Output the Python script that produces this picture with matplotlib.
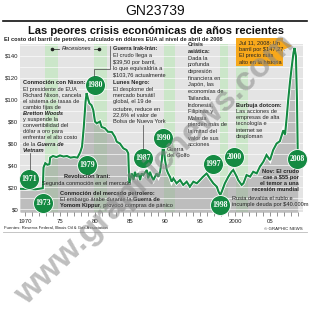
import matplotlib
matplotlib.use("Agg")
import matplotlib.pyplot as plt
import matplotlib.patheffects as pe
from matplotlib.lines import Line2D
from matplotlib.patches import Rectangle, Polygon

plt.rcParams['font.family'] = ['Liberation Sans', 'DejaVu Sans']

W, H = 310, 312

# crude oil price, 2008 dollars per barrel (as plotted)
years = [1969.3, 1970.5, 1971.5, 1972.0, 1972.55, 1972.65, 1972.9, 1973.2, 1973.5, 1973.6,
         1974.0, 1974.5, 1975.0, 1975.5, 1976.0, 1976.5, 1977.0, 1977.5, 1977.9, 1978.15,
         1978.4, 1978.65, 1978.8, 1979.0, 1979.2, 1979.5, 1979.75, 1980.0, 1980.25, 1980.7,
         1980.95, 1981.4, 1981.85, 1982.4, 1982.85, 1983.1, 1983.55, 1984.05, 1984.5, 1984.75,
         1984.9, 1985.25, 1985.5, 1985.7, 1985.95, 1986.2, 1986.45, 1986.65, 1986.9, 1987.4,
         1987.6, 1987.85, 1988.1, 1988.35, 1988.8, 1989.05, 1989.3, 1989.55, 1989.75, 1990.0,
         1990.25, 1990.45, 1990.7, 1990.95, 1991.2, 1991.65, 1992.15, 1992.6, 1993.1, 1993.55,
         1994.05, 1994.55, 1995.0, 1995.45, 1995.95, 1996.4, 1996.9, 1997.4, 1997.65, 1997.9,
         1998.1, 1998.55, 1999.05, 1999.5, 1999.75, 2000.25, 2000.45, 2000.95, 2001.2, 2001.65,
         2002.15, 2002.6, 2003.1, 2003.55, 2004.05, 2004.5, 2005.0, 2005.45, 2005.95, 2006.4,
         2006.9, 2007.15, 2007.4, 2007.6, 2007.85, 2008.1, 2008.35, 2008.5, 2008.7, 2008.85,
         2008.95]
prices = [18.5, 18.3, 18.0, 18.5, 19.0, 38, 42, 40.5, 41, 47,
          48.5, 47.5, 49, 48, 48.5, 47, 47.5, 47, 52, 57,
          75, 98, 106, 101, 96.7, 95, 90.6, 80, 78.4, 80,
          75, 74, 70.7, 70.5, 66, 61.6, 60, 55.5, 54, 51,
          23.5, 32.6, 26.5, 34, 29.6, 32.6, 26.5, 32.6, 31, 35.7,
          28, 34, 29.6, 26.5, 32.6, 29.6, 34, 44.8, 62, 44.8,
          35.7, 32.6, 29.6, 25, 28, 23.5, 26.5, 22, 25, 20.4,
          25, 23.5, 26.5, 29.6, 32.6, 28, 23.5, 20.4, 15.8, 12.8,
          15.8, 23.5, 29.6, 34.1, 35.7, 29.6, 26.5, 22, 23.5, 31.1,
          29.6, 34.1, 32.6, 38.7, 43.3, 49.4, 44.8, 54, 60, 62,
          72, 68, 85, 100, 116, 130, 143, 147.3, 140, 100,
          55]

recession_start = [1972.86, 1979.86, 1989.86, 1997.86, 2000.1]
recession_end = [1974.71, 1981.71, 1991.43, 1999.0, 2001.86]

event_labels = ["1971", "1973", "1979", "1980", "1987", "1990", "1997", "1998", "2000", "2008"]
event_x = [1970.57, 1972.57, 1978.86, 1980.0, 1986.86, 1989.71, 1996.86, 1997.86, 1999.86, 2008.86]
event_y = [27.4, 5.5, 40.3, 113.4, 46.7, 65.0, 41.2, 3.7, 47.6, 45.7]

xtick_pos = [1970, 1975, 1980, 1985, 1990, 1995, 2000, 2005]
xtick_lab = ["1970", "75", "80", "85", "90", "95", "2000", "05"]
ytick_pos = [0, 20, 40, 60, 80, 100, 120, 140]

GREEN = '#148a42'
TXT = '#222222'

fig = plt.figure(figsize=(W / 100, H / 100), dpi=100)
fig.patch.set_facecolor('white')


def fx(x):
    return x / W


def fy(y):
    return 1 - y / H


ax = fig.add_axes([fx(20), fy(212), 283 / W, 168 / H])
ax.set_facecolor('#e4e4e4')
ax.set_xlim(1969.29, 2009.71)
ax.set_ylim(-2.74, 150.96)
for s in ax.spines.values():
    s.set_visible(False)

for a, b in zip(recession_start, recession_end):
    ax.axvspan(a, b, color='#cbe6c9', lw=0, zorder=0.5)
ax.fill_between(years, prices, -5, color='#8f8f8f', alpha=0.45, lw=0, zorder=1)
for v in range(0, 151, 10):
    ax.axhline(v, color='white', lw=0.45, zorder=1.5)

ax.plot(years, prices, color=GREEN, lw=1.5, zorder=3, solid_joinstyle='miter',
        path_effects=[pe.Stroke(linewidth=2.6, foreground='white'), pe.Normal()])

ax.scatter(event_x, event_y, s=205, color=GREEN, edgecolor='white', linewidth=0.6,
           zorder=4, clip_on=False)
for lab, x, y in zip(event_labels, event_x, event_y):
    ax.text(x, y, lab, color='white', fontsize=5.6, fontweight='bold',
            family='Liberation Serif', ha='center', va='center', zorder=5)

ax.set_xticks(xtick_pos)
ax.set_xticklabels(xtick_lab)
ax.set_xticks(range(1970, 2010), minor=True)
ax.set_yticks(ytick_pos)
ax.set_yticklabels([r'\$%d' % v for v in ytick_pos])
ax.tick_params(axis='x', which='both', direction='out', length=3, width=0.5,
               color='#666666', labelsize=4.3, pad=2, labelcolor=TXT)
ax.tick_params(axis='y', length=0, labelsize=4.3, pad=1.2, labelcolor=TXT)

renderer = fig.canvas.get_renderer()


def fit_width(t, target):
    w = t.get_window_extent(renderer).width
    t.set_fontsize(t.get_fontsize() * target / w)


def seg_text(x, y, segs, size=4.1):
    # a line made of (text, style) pieces, placed side by side
    cur = x
    for txt, st in segs:
        kw = dict(fontsize=size, color=TXT, va='center', ha='left')
        if 'b' in st:
            kw['fontweight'] = 'bold'
        if 'i' in st:
            kw['fontstyle'] = 'italic'
        t = fig.text(fx(cur), fy(y), txt, **kw)
        cur += t.get_window_extent(renderer).width


def block(x, y0, step, lines, size=4.1, ha='left'):
    for i, ln in enumerate(lines):
        y = y0 + i * step
        if isinstance(ln, tuple):
            txt, st = ln
        else:
            txt, st = ln, ''
        if isinstance(txt, list):
            seg_text(x, y, txt, size)
            continue
        fig.text(fx(x), fy(y), txt, fontsize=size, color=TXT, ha=ha, va='center',
                 fontweight='bold' if 'b' in st else 'normal',
                 fontstyle='italic' if 'i' in st else 'normal')


def rule(xs, ys, color='#444444', lw=0.5):
    fig.add_artist(Line2D([fx(v) for v in xs], [fy(v) for v in ys],
                          color=color, lw=lw, transform=fig.transFigure, zorder=6))


# header
fig.text(0.5, fy(11), 'GN23739', fontsize=10, ha='center', va='center', color='#111111')
rule([3, 307], [21, 21], color='#111111', lw=1.2)
title = fig.text(fx(28), fy(31), 'Las peores crisis económicas de años recientes',
                 fontweight='bold', fontsize=9.3, ha='left', va='center', color='#111111')
fit_width(title, 256)
sub = fig.text(fx(4), fy(39.5),
               'El costo del barril de petróleo, calculado en dólares EUA al nivel de abril de 2008',
               fontweight='bold', fontsize=4.0, ha='left', va='center', color=TXT)
fit_width(sub, 212)

# recession key
fig.text(fx(76.5), fy(49), 'Recesiones', fontsize=4.1, style='italic', ha='center',
         va='center', color=TXT)
rule([53, 59], [49, 49], color=TXT)
rule([94, 99], [49, 49], color=TXT)
fig.add_artist(Line2D([fx(52), fx(99)], [fy(49), fy(49)], ls='none', marker='o', ms=1.6,
                      color=TXT, transform=fig.transFigure))

block(113, 49, 6.55, [('Guerra Irak-Irán:', 'b'), 'El crudo llega a',
                      r'\$39,50 por barril,', 'lo que equivaldría a',
                      r'\$103,76 actualmente'])
rule([110, 110, 94.5, 94.5], [46, 68.5, 68.5, 76])

block(113, 82.7, 6.4, [('Lunes Negro:', 'b'), 'El desplome del', 'mercado bursátil',
                       'global, el 19 de', 'octubre, reduce en', '22,6% el valor de',
                       'Bolsa de Nueva York'])
rule([143, 143], [125, 148.5])

block(23, 83, 6.1, [('Conmoción con Nixon:', 'b'), 'El presidente de EUA',
                    'Richard Nixon, cancela', 'el sistema de tasas de', 'cambio fijas de',
                    ('Bretton Woods', 'bi'), 'y suspende la', 'convertibilidad del',
                    'dólar a oro para', 'enfrentar el alto costo',
                    ([('de la ', ''), ('Guerra de', 'bi')], ''), ('Vietnam', 'bi')])
rule([30, 30], [153, 169.5])

block(87, 177, 6.5, [('Revolución Irani:', 'b'), 'Segunda conmoción en el mercado'],
      ha='center')

block(60, 193, 6.5, [('Conmoción del mercado petrolero:', 'b'),
                     ([('El embargo árabe durante la ', ''), ('Guerra de', 'b')], ''),
                     ([('Yomom Kippur', 'b'), (', provocó compras de pánico', '')], '')])

block(167, 149.5, 6.0, ['Guerra', 'del Golfo'])

block(188, 45, 6.65, [('Crisis', 'b'), ('asiática:', 'b'), 'Dada la', 'profunda',
                      'depresión', 'financiera en', 'Japón, las', 'economías de',
                      'Tailandia,', 'Indonesia,', 'Filipinas y', 'Malasia',
                      'pierden más de', 'la mitad del', 'valor de sus', 'acciones'])

block(236, 105, 6.3, [('Burbuja dotcom:', 'b'), 'Las acciones de', 'empresas de alta',
                      'tecnología e', 'internet se', 'desploman'])

block(299, 171.7, 5.9, [('Nov: El crudo', 'b'), (r'cae a \$55 por', 'b'),
                        ('el temor a una', 'b'), ('recesión mundial', 'b')], ha='right')

block(232, 198, 6.6, ['Rusia devalúa el rublo e', r'incumple deuda por \$40.000m'])

# record-price callout
fig.add_artist(Rectangle((fx(236), fy(66)), 47 / W, 28 / H, transform=fig.transFigure,
                         facecolor='#f7a81b', edgecolor='none', zorder=6))
fig.add_artist(Polygon([(fx(283), fy(41)), (fx(292), fy(46)), (fx(283), fy(50))],
                       closed=True, transform=fig.transFigure, facecolor='#f7a81b',
                       edgecolor='none', zorder=6))
for i, ln in enumerate(['Jul 11, 2008: Un', r'barril por \$147,27.', 'El precio más',
                        'alto en la historia']):
    fig.text(fx(238.5), fy(43 + i * 6.5), ln, fontsize=4.1, color=TXT, ha='left',
             va='center', zorder=7)

# footer
fig.text(fx(4), fy(228), 'Fuentes: Reserva Federal, Illinois Oil & Gas Association',
         fontsize=3.1, color=TXT, ha='left', va='center')
fig.text(fx(303), fy(228.5), '© GRAPHIC NEWS', fontsize=3.2, color=TXT, ha='right',
         va='center')
rule([3, 307], [232, 232], color='#bbbbbb', lw=0.6)

# watermark
fig.text(fx(155), fy(170), 'www.graphicnews.com', fontsize=24.5, fontweight='bold',
         color='#8a8a8a', alpha=0.55, rotation=44, rotation_mode='anchor',
         ha='center', va='center', zorder=10)

fig.savefig('out.png', dpi=100)
